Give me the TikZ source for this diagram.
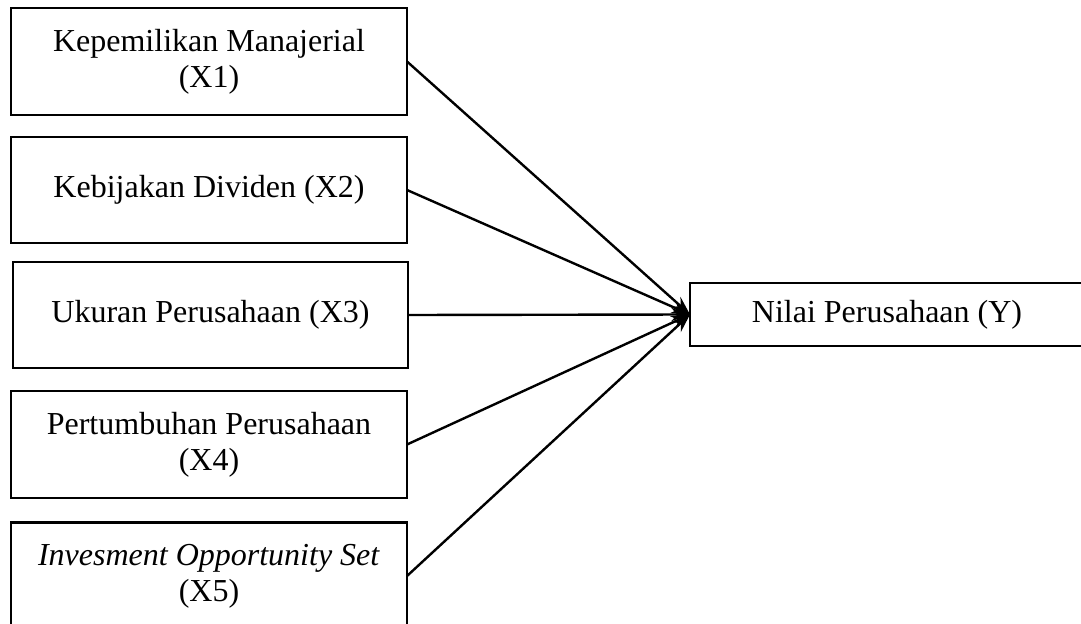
\documentclass[tikz,border=0pt]{standalone}
\usepackage{fontspec}
\setmainfont{Liberation Serif}
\usetikzlibrary{arrows.meta}
\begin{document}
\begin{tikzpicture}[x=0.75pt,y=-0.75pt,
  varbox/.style={draw, line width=2pt, rectangle, inner sep=0pt, outer sep=0pt,
    minimum width=297pt, align=center,
    font=\fontsize{24}{27}\selectfont},
  conn/.style={line width=1.8pt, -{Stealth[length=14pt,width=10pt]}}]
\useasboundingbox (0,0) rectangle (1081,624);
\node[varbox, minimum height=80.25pt] (x1) at (209,61.5) {Kepemilikan Manajerial\\(X1)};
\node[varbox, minimum height=79.5pt] (x2) at (209,190) {Kebijakan Dividen (X2)};
\node[varbox, minimum height=79.5pt, minimum width=296.25pt] (x3) at (210.5,315) {Ukuran Perusahaan (X3)};
\node[varbox, minimum height=80.25pt] (x4) at (209,444.5) {Pertumbuhan Perusahaan\\(X4)};
\node[varbox, minimum height=80.25pt] (x5) at (209,576) {\textit{Invesment Opportunity Set}\\(X5)};
\node[varbox, minimum height=47.25pt, minimum width=295.5pt] (y) at (887,314.5) {Nilai Perusahaan (Y)};
\foreach \s in {x1,x2,x3,x4,x5}
  \draw[conn] (\s.east) -- (y.west);
\end{tikzpicture}
\end{document}
